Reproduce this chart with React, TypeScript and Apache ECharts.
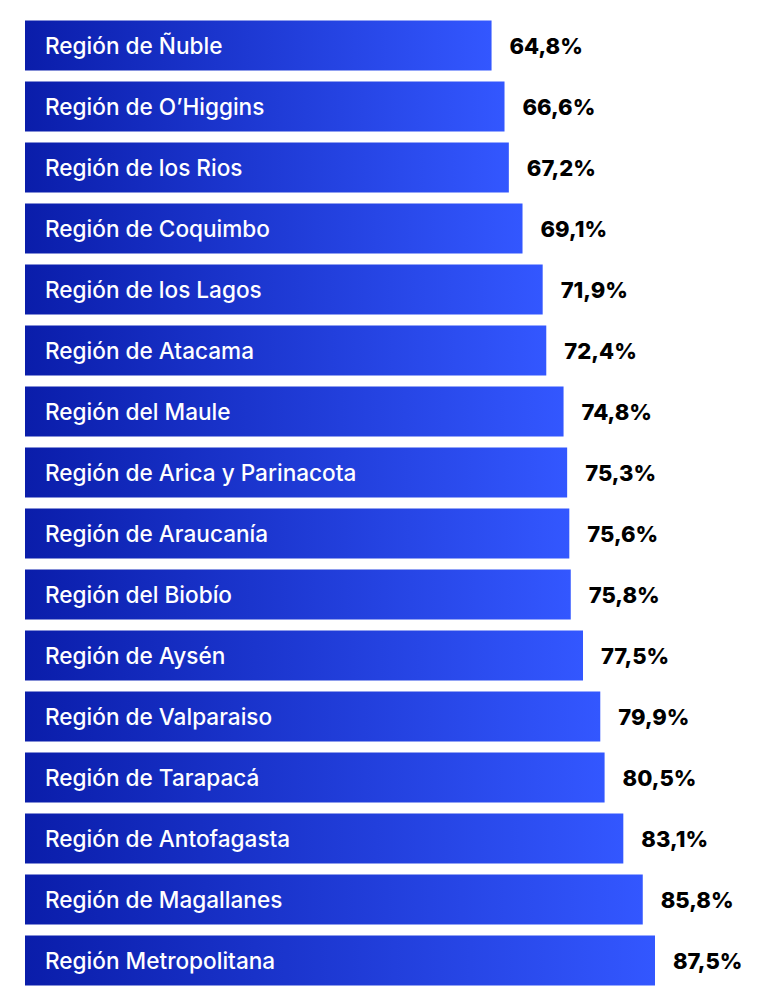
import React, { useEffect, useRef } from "react";
import * as echarts from "echarts";

const regions = [
  "Región de Ñuble",
  "Región de O’Higgins",
  "Región de los Rios",
  "Región de Coquimbo",
  "Región de los Lagos",
  "Región de Atacama",
  "Región del Maule",
  "Región de Arica y Parinacota",
  "Región de Araucanía",
  "Región del Biobío",
  "Región de Aysén",
  "Región de Valparaiso",
  "Región de Tarapacá",
  "Región de Antofagasta",
  "Región de Magallanes",
  "Región Metropolitana",
];

const values = [
  64.8, 66.6, 67.2, 69.1, 71.9, 72.4, 74.8, 75.3, 75.6, 75.8, 77.5, 79.9, 80.5,
  83.1, 85.8, 87.5,
];

const App: React.FC = () => {
  const chartRef = useRef<HTMLDivElement | null>(null);

  useEffect(() => {
    if (!chartRef.current) return;
    const chart = echarts.init(chartRef.current, undefined, { renderer: "svg" });

    const option = {
      animation: false,
      backgroundColor: "#ffffff",
      grid: {
        left: 25,
        right: 22,
        top: 15,
        height: 976,
        containLabel: false,
      },
      xAxis: {
        type: "value",
        min: 0,
        max: 100,
        show: false,
      },
      yAxis: {
        type: "category",
        data: regions,
        inverse: true,
        z: 10,
        axisLine: { show: false },
        axisTick: { show: false },
        splitLine: { show: false },
        axisLabel: {
          inside: true,
          margin: 20,
          color: "#ffffff",
          fontFamily: "Inter, Roboto, sans-serif",
          fontWeight: 500,
          fontSize: 22.6,
        },
      },
      series: [
        {
          type: "bar",
          data: values,
          barWidth: 50,
          itemStyle: {
            color: new echarts.graphic.LinearGradient(0, 0, 1, 0, [
              { offset: 0, color: "#0a1daa" },
              { offset: 1, color: "#3357ff" },
            ]),
          },
          label: {
            show: true,
            position: "right",
            distance: 18,
            color: "#000000",
            fontFamily: "Inter, Roboto, sans-serif",
            fontWeight: 800,
            fontSize: 22,
            formatter: (p: any) => p.value.toFixed(1).replace(".", ",") + "%",
          },
        },
      ],
    };

    chart.setOption(option);
    return () => {
      chart.dispose();
    };
  }, []);

  return (
    <div
      style={{
        position: "fixed",
        left: 0,
        top: 0,
        width: 767,
        height: 1006,
        background: "#ffffff",
      }}
    >
      <div ref={chartRef} style={{ width: 767, height: 1006 }} />
    </div>
  );
};

export default App;
